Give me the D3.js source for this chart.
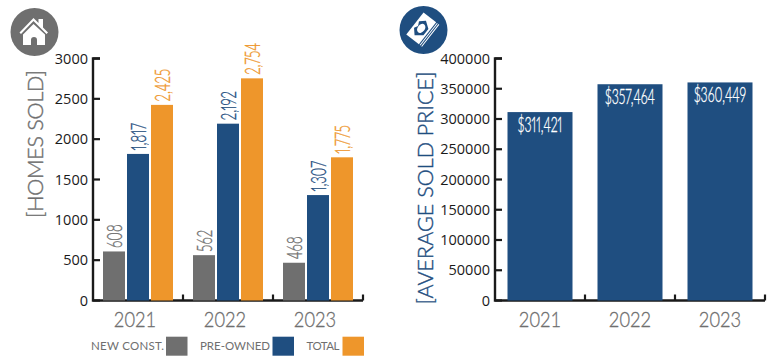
<!DOCTYPE html>
<html>
<head>
<meta charset="utf-8">
<script src="https://cdn.jsdelivr.net/npm/d3@7"></script>
<style>
  html, body { margin: 0; padding: 0; background: #fff; }
  svg { display: block; }
  text { font-family: Lato, sans-serif; }
  .tick-y { font-family: "Open Sans", sans-serif; font-size: 14.5px; fill: #1a1a1a; }
  .val { font-variant-numeric: proportional-nums; font-weight: 300; stroke-width: 0.35px; }
</style>
</head>
<body>
<div id="chart"></div>
<script>
const years = ["2021", "2022", "2023"];
const seriesNames = ["NEW CONST.", "PRE-OWNED", "TOTAL"];
const newConst = [608, 562, 468];
const preOwned = [1817, 2192, 1307];
const total = [2425, 2754, 1775];
const avgPrice = [311421, 357464, 360449];
const homesTicks = [0, 500, 1000, 1500, 2000, 2500, 3000];
const priceTicks = [0, 50000, 100000, 150000, 200000, 250000, 300000, 350000, 400000];

const grey = "#6f6f6f", blue = "#1f4e80", orange = "#ee962b", ink = "#1a1a1a";
const colors = [grey, blue, orange];
const fmt = d3.format(",");

const svg = d3.select("#chart").append("svg").attr("width", 781).attr("height", 361);

// axis line with the little upward ticks between the years
function drawAxes(x0, x1, y, ticks, yearShift) {
  const g = svg.append("g");
  const xBand = d3.scaleBand().domain(years).range([x0, x1]);

  g.append("path")
    .attr("fill", "none").attr("stroke", ink).attr("stroke-width", 2.4)
    .attr("d", `M${x0 + 7},${y.range()[1]}H${x0}V${y.range()[0]}H${x1}`);

  ticks.forEach((t) => {
    g.append("line").attr("x1", x0).attr("x2", x0 + 7).attr("y1", y(t)).attr("y2", y(t))
      .attr("stroke", ink).attr("stroke-width", 2.2);
    g.append("text").attr("class", "tick-y").attr("x", x0 - 5).attr("y", y(t) + 5)
      .attr("text-anchor", "end").text(t);
  });

  years.forEach((yr) => {
    const right = xBand(yr) + xBand.bandwidth();
    g.append("line").attr("x1", right).attr("x2", right)
      .attr("y1", y.range()[0]).attr("y2", y.range()[0] - 6)
      .attr("stroke", ink).attr("stroke-width", 2.2);
    g.append("text")
      .attr("transform", `translate(${xBand(yr) + xBand.bandwidth() / 2 + yearShift},${y.range()[0] + 26.5}) scale(0.87,1)`)
      .attr("text-anchor", "middle").attr("fill", grey)
      .attr("font-size", 21).attr("font-weight", 300)
      .attr("stroke", grey).attr("stroke-width", 0.3).text(yr);
  });
  return xBand;
}

function axisTitle(label, x, y, color, length) {
  svg.append("text")
    .attr("transform", `translate(${x},${y}) rotate(-90)`)
    .attr("text-anchor", "middle").attr("fill", color)
    .attr("stroke", color).attr("stroke-width", 0.4)
    .attr("font-size", 21.5).attr("font-weight", 300)
    .attr("textLength", length).attr("lengthAdjust", "spacing")
    .text(label);
}

// ---- left chart: homes sold
const yHomes = d3.scaleLinear().domain([0, 3000]).range([300.5, 58.5]);
const xHomes = drawAxes(93, 363, yHomes, homesTicks, -3);
axisTitle("[HOMES SOLD]", 43, 144, grey, 148);

const inner = d3.scaleBand().domain(seriesNames).range([10, 80]).paddingInner(2 / 24);
[newConst, preOwned, total].forEach((vals, s) => {
  const g = svg.append("g");
  g.selectAll("rect").data(vals).join("rect")
    .attr("x", (d, i) => xHomes(years[i]) + inner(seriesNames[s]))
    .attr("y", (d) => yHomes(d))
    .attr("width", inner.bandwidth())
    .attr("height", (d) => yHomes(0) - yHomes(d))
    .attr("fill", colors[s]);
  // condensed rotated value labels
  g.selectAll("text").data(vals).join("text")
    .attr("class", "val")
    .attr("transform", (d, i) => {
      const cx = xHomes(years[i]) + inner(seriesNames[s]) + inner.bandwidth() / 2;
      return `translate(${cx + 7.5},${yHomes(d) - 3.5}) rotate(-90) scale(0.6,1)`;
    })
    .attr("fill", colors[s]).attr("stroke", colors[s])
    .attr("font-size", 22).text((d) => fmt(d));
});

// legend
const legendX = [91, 200, 306.5];
const legendLen = [73, 70, 33];
const legendBox = [166, 272.5, 342.5];
seriesNames.forEach((name, i) => {
  svg.append("text").attr("x", legendX[i]).attr("y", 350).attr("fill", grey)
    .attr("font-size", 11.5)
    .attr("textLength", legendLen[i]).attr("lengthAdjust", "spacing").text(name);
  svg.append("rect").attr("x", legendBox[i]).attr("y", 336.7).attr("width", 21.5).attr("height", 19)
    .attr("fill", colors[i]);
});

// ---- right chart: average price
const yPrice = d3.scaleLinear().domain([0, 400000]).range([300.5, 58.5]);
const xPrice = drawAxes(495, 765, yPrice, priceTicks, 0);
axisTitle("[AVERAGE SOLD PRICE]", 433, 188, blue, 233);

const g2 = svg.append("g");
g2.selectAll("rect").data(avgPrice).join("rect")
  .attr("x", (d, i) => xPrice(years[i]) + 12.5)
  .attr("y", (d) => yPrice(d))
  .attr("width", 65)
  .attr("height", (d) => yPrice(0) - yPrice(d))
  .attr("fill", blue);
g2.selectAll("text").data(avgPrice).join("text")
  .attr("class", "val")
  .attr("transform", (d, i) => `translate(${xPrice(years[i]) + 45},${yPrice(d) + 20}) scale(0.56,1)`)
  .attr("text-anchor", "middle").attr("fill", "#fff").attr("stroke", "#fff")
  .attr("font-size", 22).text((d) => "$" + fmt(d));

// ---- icons
const house = svg.append("g").attr("transform", "translate(34.5,32)");
house.append("circle").attr("r", 24).attr("fill", grey);
house.append("path").attr("fill", "#fff")
  .attr("d", "M-15,0.5L-1,-14L4,-9V-13H8.5V-4.5L13.5,0.5L12,2L-1,-11L-13.5,2Z");
house.append("path").attr("fill", "#fff")
  .attr("d", "M-11.5,2.5L-1,-8L10.5,2.5V13H2.5V8A3,3 0 0 0 -3.5,8V13H-11.5Z");

const money = svg.append("g").attr("transform", "translate(423.5,30)");
money.append("circle").attr("r", 24).attr("fill", blue);
const bill = money.append("g").attr("transform", "translate(-1.5,-1) rotate(-52)");
bill.append("rect").attr("x", -14).attr("y", -9).attr("width", 28).attr("height", 16).attr("fill", "#fff");
bill.append("path").attr("fill", blue)
  .attr("d", "M-4,-7L0,-5L4,-7L4.5,-7L9,-2L4,5H-4L-9.5,-2Z");
bill.append("ellipse").attr("cy", -1).attr("rx", 5).attr("ry", 3.6).attr("fill", "#fff");
bill.append("path").attr("fill", "none").attr("stroke", "#fff").attr("stroke-width", 1)
  .attr("d", "M-14,8.5H14M-14,10.5H14");
</script>
</body>
</html>
